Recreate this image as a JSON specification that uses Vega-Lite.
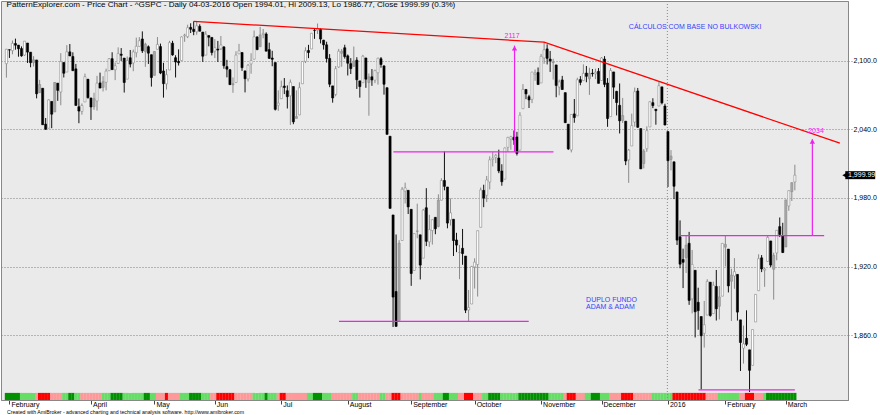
{
"$schema":"https://vega.github.io/schema/vega-lite/v6.json",
"width":847,"height":399,"autosize":"none",
"padding":{"left":1,"top":1,"right":32,"bottom":15},
"background":"#ffffff",
"config":{"view":{"fill":"#eaeaea","stroke":"#888888","strokeWidth":1},"font":"Liberation Sans"},
"datasets":{
"p":[
{"i":0,"o":2097.65,"h":2110.61,"l":2085.44,"c":2110.30,"s":"U"},
{"i":1,"o":2109.83,"h":2110.05,"l":2102.68,"c":2109.66,"s":"U"},
{"i":2,"o":2109.10,"h":2117.94,"l":2105.87,"c":2115.48,"s":"U"},
{"i":3,"o":2115.30,"h":2119.59,"l":2109.89,"c":2113.86,"s":"U"},
{"i":4,"o":2113.91,"h":2113.91,"l":2103.76,"c":2110.74,"s":"U"},
{"i":5,"o":2110.88,"h":2112.74,"l":2103.75,"c":2104.50,"s":"u"},
{"i":6,"o":2105.23,"h":2117.52,"l":2104.50,"c":2117.39,"s":"u"},
{"i":7,"o":2115.76,"h":2115.76,"l":2098.26,"c":2107.78,"s":"u"},
{"i":8,"o":2107.72,"h":2107.72,"l":2094.49,"c":2098.53,"s":"u"},
{"i":9,"o":2098.54,"h":2104.25,"l":2095.22,"c":2101.04,"s":"u","t":"w"},
{"i":10,"o":2100.91,"h":2100.91,"l":2067.27,"c":2071.26,"s":"d"},
{"i":11,"o":2072.25,"h":2083.49,"l":2072.21,"c":2079.43,"s":"D","t":"w"},
{"i":12,"o":2076.14,"h":2076.14,"l":2044.16,"c":2044.16,"s":"D"},
{"i":13,"o":2044.69,"h":2050.08,"l":2039.69,"c":2040.24,"s":"D"},
{"i":14,"o":2041.10,"h":2066.41,"l":2041.10,"c":2065.95,"s":"D"},
{"i":15,"o":2064.56,"h":2064.56,"l":2041.17,"c":2053.40,"s":"d"},
{"i":16,"o":2055.35,"h":2081.41,"l":2055.35,"c":2081.19,"s":"d","t":"w"},
{"i":17,"o":2080.59,"h":2080.59,"l":2065.08,"c":2074.28,"s":"d"},
{"i":18,"o":2072.84,"h":2106.85,"l":2061.23,"c":2099.50,"s":"d"},
{"i":19,"o":2098.69,"h":2098.69,"l":2085.56,"c":2089.27,"s":"u"},
{"i":20,"o":2090.32,"h":2113.92,"l":2090.32,"c":2108.10,"s":"u"},
{"i":21,"o":2107.99,"h":2114.86,"l":2104.42,"c":2104.42,"s":"U"},
{"i":22,"o":2103.94,"h":2107.63,"l":2091.50,"c":2091.50,"s":"U"},
{"i":23,"o":2093.10,"h":2097.43,"l":2061.05,"c":2061.05,"s":"u"},
{"i":24,"o":2059.94,"h":2067.15,"l":2045.50,"c":2056.15,"s":"u"},
{"i":25,"o":2055.78,"h":2062.83,"l":2052.96,"c":2061.02,"s":"d"},
{"i":26,"o":2064.11,"h":2088.97,"l":2064.11,"c":2086.24,"s":"d"},
{"i":27,"o":2084.05,"h":2084.05,"l":2067.04,"c":2067.89,"s":"d"},
{"i":28,"o":2067.63,"h":2067.63,"l":2048.38,"c":2059.69,"s":"d"},
{"i":29,"o":2060.03,"h":2072.17,"l":2057.32,"c":2066.96,"s":"d","t":"w"},
{"i":30,"o":2064.87,"h":2086.99,"l":2056.52,"c":2080.62,"s":"d"},
{"i":31,"o":2080.79,"h":2089.81,"l":2076.10,"c":2076.33,"s":"d"},
{"i":32,"o":2076.94,"h":2086.69,"l":2073.30,"c":2081.90,"s":"u","t":"w"},
{"i":33,"o":2081.29,"h":2093.31,"l":2074.29,"c":2091.18,"s":"u"},
{"i":34,"o":2091.51,"h":2102.61,"l":2091.51,"c":2102.06,"s":"u"},
{"i":35,"o":2102.03,"h":2107.65,"l":2092.33,"c":2092.43,"s":"U"},
{"i":36,"o":2092.28,"h":2098.62,"l":2083.24,"c":2095.84,"s":"U"},
{"i":37,"o":2097.82,"h":2111.91,"l":2097.82,"c":2106.63,"s":"U"},
{"i":38,"o":2105.96,"h":2111.30,"l":2100.02,"c":2104.99,"s":"U"},
{"i":39,"o":2102.58,"h":2102.58,"l":2072.37,"c":2081.18,"s":"u"},
{"i":40,"o":2084.11,"h":2103.94,"l":2084.11,"c":2100.40,"s":"u"},
{"i":41,"o":2102.82,"h":2109.64,"l":2094.38,"c":2097.29,"s":"u"},
{"i":42,"o":2098.27,"h":2109.98,"l":2091.05,"c":2107.96,"s":"u"},
{"i":43,"o":2107.21,"h":2120.49,"l":2103.19,"c":2112.93,"s":"u"},
{"i":44,"o":2112.80,"h":2120.92,"l":2112.80,"c":2117.69,"s":"u"},
{"i":45,"o":2119.29,"h":2125.92,"l":2107.04,"c":2108.92,"s":"u"},
{"i":46,"o":2108.35,"h":2116.04,"l":2094.89,"c":2114.76,"s":"U","t":"w"},
{"i":47,"o":2112.49,"h":2113.65,"l":2097.41,"c":2106.85,"s":"U"},
{"i":48,"o":2105.52,"h":2105.52,"l":2077.59,"c":2085.51,"s":"u"},
{"i":49,"o":2087.38,"h":2108.41,"l":2087.38,"c":2108.29,"s":"u","t":"w"},
{"i":50,"o":2110.23,"h":2120.95,"l":2110.23,"c":2114.49,"s":"d"},
{"i":51,"o":2112.63,"h":2115.24,"l":2088.46,"c":2089.46,"s":"d"},
{"i":52,"o":2091.26,"h":2098.42,"l":2067.93,"c":2080.15,"s":"d"},
{"i":53,"o":2079.96,"h":2092.90,"l":2074.99,"c":2088.00,"s":"D"},
{"i":54,"o":2092.13,"h":2117.66,"l":2092.13,"c":2116.10,"s":"d"},
{"i":55,"o":2115.56,"h":2117.69,"l":2104.58,"c":2105.33,"s":"d"},
{"i":56,"o":2102.87,"h":2105.06,"l":2085.57,"c":2099.12,"s":"d"},
{"i":57,"o":2099.62,"h":2110.19,"l":2096.04,"c":2098.48,"s":"d"},
{"i":58,"o":2100.43,"h":2121.45,"l":2100.43,"c":2121.10,"s":"u"},
{"i":59,"o":2122.07,"h":2123.89,"l":2116.81,"c":2122.73,"s":"u"},
{"i":60,"o":2121.30,"h":2131.78,"l":2120.01,"c":2129.20,"s":"u"},
{"i":61,"o":2129.45,"h":2133.02,"l":2124.50,"c":2127.83,"s":"U"},
{"i":62,"o":2127.79,"h":2134.72,"l":2122.59,"c":2125.85,"s":"U"},
{"i":63,"o":2125.55,"h":2134.28,"l":2122.95,"c":2130.82,"s":"U"},
{"i":64,"o":2130.36,"h":2132.15,"l":2126.06,"c":2126.06,"s":"U"},
{"i":65,"o":2125.34,"h":2125.34,"l":2099.18,"c":2104.20,"s":"u"},
{"i":66,"o":2105.13,"h":2126.22,"l":2105.13,"c":2123.48,"s":"u"},
{"i":67,"o":2122.27,"h":2122.27,"l":2112.86,"c":2120.79,"s":"u"},
{"i":68,"o":2120.66,"h":2120.66,"l":2104.89,"c":2107.39,"s":"d"},
{"i":69,"o":2108.64,"h":2119.15,"l":2102.54,"c":2111.73,"s":"d"},
{"i":70,"o":2110.41,"h":2117.59,"l":2099.14,"c":2109.60,"s":"D"},
{"i":71,"o":2110.64,"h":2121.92,"l":2109.61,"c":2114.07,"s":"D"},
{"i":72,"o":2112.35,"h":2112.89,"l":2093.23,"c":2095.84,"s":"D"},
{"i":73,"o":2095.09,"h":2100.99,"l":2085.67,"c":2092.83,"s":"D"},
{"i":74,"o":2092.34,"h":2093.01,"l":2079.11,"c":2079.28,"s":"D"},
{"i":75,"o":2079.07,"h":2085.62,"l":2072.14,"c":2080.15,"s":"D","t":"w"},
{"i":76,"o":2081.12,"h":2108.50,"l":2081.12,"c":2105.20,"s":"d"},
{"i":77,"o":2106.24,"h":2115.02,"l":2106.24,"c":2108.86,"s":"d"},
{"i":78,"o":2107.43,"h":2107.43,"l":2091.33,"c":2094.11,"s":"d"},
{"i":79,"o":2091.34,"h":2091.34,"l":2072.49,"c":2084.43,"s":"d"},
{"i":80,"o":2084.26,"h":2097.40,"l":2082.10,"c":2096.29,"s":"d"},
{"i":81,"o":2097.40,"h":2106.79,"l":2088.86,"c":2100.44,"s":"d"},
{"i":82,"o":2101.58,"h":2126.65,"l":2101.58,"c":2121.24,"s":"u"},
{"i":83,"o":2121.06,"h":2121.64,"l":2109.45,"c":2109.99,"s":"u"},
{"i":84,"o":2112.50,"h":2129.87,"l":2112.50,"c":2122.85,"s":"u","t":"w"},
{"i":85,"o":2123.16,"h":2128.03,"l":2119.89,"c":2124.20,"s":"u"},
{"i":86,"o":2123.65,"h":2125.10,"l":2108.58,"c":2108.58,"s":"U"},
{"i":87,"o":2109.96,"h":2116.04,"l":2101.78,"c":2102.31,"s":"u"},
{"i":88,"o":2102.62,"h":2108.92,"l":2095.38,"c":2101.49,"s":"u"},
{"i":89,"o":2098.63,"h":2098.63,"l":2056.64,"c":2057.64,"s":"u"},
{"i":90,"o":2061.19,"h":2074.28,"l":2056.32,"c":2063.11,"s":"d"},
{"i":91,"o":2067.00,"h":2082.78,"l":2067.00,"c":2077.42,"s":"D"},
{"i":92,"o":2078.03,"h":2085.06,"l":2071.02,"c":2076.78,"s":"D"},
{"i":93,"o":2073.95,"h":2078.61,"l":2058.40,"c":2068.76,"s":"d"},
{"i":94,"o":2069.52,"h":2083.74,"l":2044.02,"c":2081.34,"s":"d"},
{"i":95,"o":2077.66,"h":2077.66,"l":2044.66,"c":2046.68,"s":"d"},
{"i":96,"o":2049.73,"h":2074.28,"l":2049.73,"c":2051.31,"s":"d","t":"w"},
{"i":97,"o":2052.74,"h":2081.31,"l":2052.74,"c":2076.62,"s":"d"},
{"i":98,"o":2080.03,"h":2099.88,"l":2080.03,"c":2099.60,"s":"d"},
{"i":99,"o":2099.72,"h":2111.98,"l":2098.18,"c":2108.95,"s":"d"},
{"i":100,"o":2109.22,"h":2114.14,"l":2102.49,"c":2107.40,"s":"u"},
{"i":101,"o":2110.55,"h":2124.42,"l":2110.55,"c":2124.29,"s":"u"},
{"i":102,"o":2126.80,"h":2128.91,"l":2119.39,"c":2126.64,"s":"U"},
{"i":103,"o":2126.85,"h":2132.82,"l":2123.66,"c":2128.28,"s":"U"},
{"i":104,"o":2127.55,"h":2128.48,"l":2115.40,"c":2119.21,"s":"U"},
{"i":105,"o":2118.21,"h":2118.51,"l":2110.00,"c":2114.15,"s":"u"},
{"i":106,"o":2114.16,"h":2116.87,"l":2098.63,"c":2102.15,"s":"u"},
{"i":107,"o":2102.24,"h":2106.01,"l":2077.09,"c":2079.65,"s":"u"},
{"i":108,"o":2078.19,"h":2078.19,"l":2063.52,"c":2067.64,"s":"d"},
{"i":109,"o":2070.75,"h":2095.60,"l":2069.09,"c":2093.25,"s":"d"},
{"i":110,"o":2094.70,"h":2110.60,"l":2094.08,"c":2108.57,"s":"d"},
{"i":111,"o":2106.78,"h":2110.48,"l":2094.97,"c":2108.63,"s":"d","t":"w"},
{"i":112,"o":2111.60,"h":2114.24,"l":2102.07,"c":2103.84,"s":"d"},
{"i":113,"o":2104.49,"h":2105.70,"l":2087.31,"c":2098.04,"s":"d"},
{"i":114,"o":2097.68,"h":2102.51,"l":2088.60,"c":2093.32,"s":"d"},
{"i":115,"o":2095.27,"h":2112.66,"l":2095.27,"c":2099.84,"s":"u","t":"w"},
{"i":116,"o":2100.75,"h":2103.32,"l":2075.53,"c":2083.56,"s":"u"},
{"i":117,"o":2082.61,"h":2082.61,"l":2067.91,"c":2077.57,"s":"d"},
{"i":118,"o":2080.98,"h":2105.35,"l":2080.98,"c":2104.18,"s":"d"},
{"i":119,"o":2102.66,"h":2102.66,"l":2076.49,"c":2084.07,"s":"d"},
{"i":120,"o":2081.10,"h":2089.06,"l":2052.09,"c":2086.05,"s":"d","t":"w"},
{"i":121,"o":2086.19,"h":2092.93,"l":2078.26,"c":2083.39,"s":"d"},
{"i":122,"o":2083.15,"h":2092.45,"l":2080.61,"c":2091.54,"s":"d"},
{"i":123,"o":2089.70,"h":2102.87,"l":2079.30,"c":2102.44,"s":"d"},
{"i":124,"o":2101.99,"h":2103.47,"l":2094.14,"c":2096.92,"s":"u"},
{"i":125,"o":2095.69,"h":2096.17,"l":2070.53,"c":2079.61,"s":"u"},
{"i":126,"o":2076.61,"h":2076.61,"l":2035.73,"c":2035.73,"s":"d"},
{"i":127,"o":2034.08,"h":2034.08,"l":1970.89,"c":1970.89,"s":"d"},
{"i":128,"o":1965.15,"h":1965.15,"l":1867.01,"c":1893.21,"s":"D"},
{"i":129,"o":1898.08,"h":1948.04,"l":1867.08,"c":1867.61,"s":"D"},
{"i":130,"o":1872.75,"h":1943.09,"l":1872.75,"c":1940.51,"s":"D","t":"w"},
{"i":131,"o":1942.77,"h":1989.60,"l":1942.77,"c":1987.66,"s":"d"},
{"i":132,"o":1986.06,"h":1993.48,"l":1975.19,"c":1988.87,"s":"d"},
{"i":133,"o":1986.73,"h":1986.73,"l":1965.98,"c":1972.18,"s":"d"},
{"i":134,"o":1970.09,"h":1970.09,"l":1903.07,"c":1913.85,"s":"d"},
{"i":135,"o":1916.52,"h":1948.91,"l":1916.52,"c":1948.86,"s":"d"},
{"i":136,"o":1950.79,"h":1975.01,"l":1944.72,"c":1951.13,"s":"d","t":"w"},
{"i":137,"o":1947.76,"h":1947.76,"l":1908.65,"c":1921.22,"s":"u"},
{"i":138,"o":1927.30,"h":1970.42,"l":1927.30,"c":1969.41,"s":"d"},
{"i":139,"o":1971.45,"h":1988.63,"l":1937.88,"c":1942.04,"s":"d"},
{"i":140,"o":1941.59,"h":1965.29,"l":1937.19,"c":1952.29,"s":"d"},
{"i":141,"o":1951.45,"h":1961.05,"l":1939.19,"c":1961.05,"s":"d"},
{"i":142,"o":1963.06,"h":1963.06,"l":1948.27,"c":1953.03,"s":"u"},
{"i":143,"o":1955.10,"h":1983.19,"l":1954.30,"c":1978.09,"s":"u","t":"w"},
{"i":144,"o":1978.02,"h":1997.26,"l":1977.93,"c":1995.31,"s":"u"},
{"i":145,"o":1995.33,"h":2020.86,"l":1986.73,"c":1990.20,"s":"U"},
{"i":146,"o":1989.66,"h":1989.66,"l":1953.45,"c":1958.03,"s":"U"},
{"i":147,"o":1960.84,"h":1979.64,"l":1955.80,"c":1966.97,"s":"u"},
{"i":148,"o":1961.39,"h":1961.39,"l":1929.22,"c":1942.74,"s":"u"},
{"i":149,"o":1943.24,"h":1949.52,"l":1932.57,"c":1938.76,"s":"u"},
{"i":150,"o":1932.24,"h":1938.88,"l":1908.91,"c":1932.24,"s":"d"},
{"i":151,"o":1935.93,"h":1952.89,"l":1921.50,"c":1931.34,"s":"d"},
{"i":152,"o":1929.18,"h":1929.18,"l":1879.21,"c":1881.77,"s":"D"},
{"i":153,"o":1881.90,"h":1899.48,"l":1871.91,"c":1884.09,"s":"D"},
{"i":154,"o":1887.14,"h":1920.53,"l":1887.14,"c":1920.03,"s":"D"},
{"i":155,"o":1919.65,"h":1927.21,"l":1900.70,"c":1923.82,"s":"d"},
{"i":156,"o":1921.77,"h":1951.36,"l":1893.70,"c":1951.36,"s":"d"},
{"i":157,"o":1954.33,"h":1989.17,"l":1954.33,"c":1987.05,"s":"d"},
{"i":158,"o":1986.63,"h":1991.62,"l":1971.99,"c":1979.92,"s":"u"},
{"i":159,"o":1982.34,"h":1999.31,"l":1976.44,"c":1995.83,"s":"u"},
{"i":160,"o":1994.01,"h":2016.50,"l":1987.53,"c":2013.43,"s":"U"},
{"i":161,"o":2013.73,"h":2020.13,"l":2007.61,"c":2014.89,"s":"U"},
{"i":162,"o":2015.65,"h":2018.66,"l":2010.55,"c":2017.46,"s":"U"},
{"i":163,"o":2015.00,"h":2022.34,"l":2001.78,"c":2003.69,"s":"U"},
{"i":164,"o":2003.66,"h":2009.56,"l":1990.73,"c":1994.24,"s":"u"},
{"i":165,"o":1996.47,"h":2024.15,"l":1996.47,"c":2023.86,"s":"u"},
{"i":166,"o":2024.37,"h":2033.54,"l":2020.46,"c":2033.11,"s":"u"},
{"i":167,"o":2031.73,"h":2034.45,"l":2022.31,"c":2033.66,"s":"u"},
{"i":168,"o":2033.13,"h":2039.12,"l":2026.61,"c":2030.77,"s":"u"},
{"i":169,"o":2033.47,"h":2037.97,"l":2017.22,"c":2018.94,"s":"u"},
{"i":170,"o":2021.88,"h":2055.20,"l":2021.88,"c":2052.51,"s":"U"},
{"i":171,"o":2058.19,"h":2079.74,"l":2058.19,"c":2075.15,"s":"U"},
{"i":172,"o":2075.08,"h":2075.14,"l":2066.53,"c":2071.18,"s":"U"},
{"i":173,"o":2068.75,"h":2070.37,"l":2058.84,"c":2065.89,"s":"U"},
{"i":174,"o":2066.48,"h":2090.35,"l":2063.11,"c":2090.35,"s":"U"},
{"i":175,"o":2088.35,"h":2092.52,"l":2082.63,"c":2089.41,"s":"U"},
{"i":176,"o":2090.00,"h":2094.32,"l":2079.34,"c":2079.36,"s":"U"},
{"i":177,"o":2080.76,"h":2106.20,"l":2080.76,"c":2104.05,"s":"U"},
{"i":178,"o":2102.63,"h":2116.48,"l":2097.51,"c":2109.79,"s":"U"},
{"i":179,"o":2110.60,"h":2114.59,"l":2096.98,"c":2102.31,"s":"U"},
{"i":180,"o":2101.68,"h":2108.78,"l":2090.41,"c":2099.93,"s":"u"},
{"i":181,"o":2098.60,"h":2101.91,"l":2083.74,"c":2099.20,"s":"u","t":"w"},
{"i":182,"o":2096.56,"h":2096.56,"l":2068.24,"c":2078.58,"s":"u"},
{"i":183,"o":2077.19,"h":2083.67,"l":2069.91,"c":2081.72,"s":"u"},
{"i":184,"o":2083.41,"h":2086.94,"l":2074.85,"c":2075.00,"s":"u"},
{"i":185,"o":2072.29,"h":2072.29,"l":2045.66,"c":2045.97,"s":"d"},
{"i":186,"o":2044.64,"h":2044.64,"l":2022.02,"c":2023.04,"s":"D"},
{"i":187,"o":2022.08,"h":2053.22,"l":2019.94,"c":2053.19,"s":"D"},
{"i":188,"o":2053.67,"h":2066.69,"l":2045.90,"c":2050.44,"s":"D"},
{"i":189,"o":2051.99,"h":2085.31,"l":2051.99,"c":2083.58,"s":"d"},
{"i":190,"o":2083.70,"h":2086.74,"l":2078.76,"c":2081.24,"s":"d"},
{"i":191,"o":2082.82,"h":2097.06,"l":2082.82,"c":2089.17,"s":"d"},
{"i":192,"o":2089.41,"h":2095.61,"l":2081.39,"c":2086.59,"s":"u"},
{"i":193,"o":2084.42,"h":2094.12,"l":2070.29,"c":2089.14,"s":"u","t":"w"},
{"i":194,"o":2089.30,"h":2093.00,"l":2086.30,"c":2088.87,"s":"U"},
{"i":195,"o":2088.82,"h":2093.29,"l":2084.13,"c":2090.11,"s":"U"},
{"i":196,"o":2090.95,"h":2093.81,"l":2080.41,"c":2080.41,"s":"U"},
{"i":197,"o":2082.93,"h":2103.37,"l":2082.93,"c":2102.63,"s":"u"},
{"i":198,"o":2101.71,"h":2104.27,"l":2077.11,"c":2079.51,"s":"u"},
{"i":199,"o":2080.71,"h":2085.00,"l":2042.35,"c":2049.62,"s":"u"},
{"i":200,"o":2051.24,"h":2093.84,"l":2051.24,"c":2091.69,"s":"d"},
{"i":201,"o":2090.42,"h":2090.42,"l":2066.78,"c":2077.07,"s":"d"},
{"i":202,"o":2073.39,"h":2073.85,"l":2052.32,"c":2063.59,"s":"d"},
{"i":203,"o":2061.17,"h":2080.33,"l":2036.53,"c":2047.62,"s":"d"},
{"i":204,"o":2047.93,"h":2067.65,"l":2045.67,"c":2052.23,"s":"D","t":"w"},
{"i":205,"o":2047.27,"h":2047.27,"l":2008.80,"c":2012.37,"s":"D"},
{"i":206,"o":2013.37,"h":2022.92,"l":1993.26,"c":2021.94,"s":"D"},
{"i":207,"o":2025.55,"h":2053.87,"l":2025.55,"c":2043.41,"s":"D"},
{"i":208,"o":2046.50,"h":2076.72,"l":2042.43,"c":2073.07,"s":"d"},
{"i":209,"o":2073.76,"h":2076.37,"l":2041.66,"c":2041.89,"s":"d"},
{"i":210,"o":2040.81,"h":2040.81,"l":2005.33,"c":2005.55,"s":"d"},
{"i":211,"o":2010.27,"h":2022.90,"l":2005.93,"c":2021.15,"s":"d","t":"w"},
{"i":212,"o":2023.15,"h":2042.74,"l":2020.49,"c":2038.97,"s":"d"},
{"i":213,"o":2042.20,"h":2064.73,"l":2042.20,"c":2064.29,"s":"d"},
{"i":214,"o":2063.52,"h":2067.36,"l":2058.73,"c":2060.99,"s":"u"},
{"i":215,"o":2057.77,"h":2057.77,"l":2044.20,"c":2056.50,"s":"u"},
{"i":216,"o":2060.54,"h":2081.56,"l":2060.54,"c":2078.36,"s":"u"},
{"i":217,"o":2077.34,"h":2077.34,"l":2061.97,"c":2063.36,"s":"u"},
{"i":218,"o":2060.59,"h":2062.54,"l":2043.62,"c":2043.94,"s":"u"},
{"i":219,"o":2038.20,"h":2038.20,"l":1989.68,"c":2012.66,"s":"u"},
{"i":220,"o":2013.78,"h":2021.94,"l":2004.17,"c":2016.71,"s":"u","t":"w"},
{"i":221,"o":2011.71,"h":2011.71,"l":1979.05,"c":1990.26,"s":"D"},
{"i":222,"o":1985.32,"h":1985.32,"l":1938.83,"c":1943.09,"s":"D"},
{"i":223,"o":1945.97,"h":1960.40,"l":1918.46,"c":1922.03,"s":"D"},
{"i":224,"o":1926.12,"h":1935.65,"l":1901.10,"c":1923.67,"s":"D"},
{"i":225,"o":1927.83,"h":1947.38,"l":1914.35,"c":1938.68,"s":"D","t":"w"},
{"i":226,"o":1940.34,"h":1950.33,"l":1886.41,"c":1890.28,"s":"D"},
{"i":227,"o":1891.68,"h":1934.47,"l":1878.93,"c":1921.84,"s":"D"},
{"i":228,"o":1916.68,"h":1916.68,"l":1857.83,"c":1880.33,"s":"D"},
{"i":229,"o":1888.66,"h":1901.44,"l":1864.60,"c":1881.33,"s":"D"},
{"i":230,"o":1876.18,"h":1876.18,"l":1812.29,"c":1859.33,"s":"D"},
{"i":231,"o":1861.46,"h":1889.85,"l":1848.98,"c":1868.99,"s":"D"},
{"i":232,"o":1877.40,"h":1908.85,"l":1877.40,"c":1906.90,"s":"d"},
{"i":233,"o":1906.28,"h":1906.28,"l":1875.97,"c":1877.08,"s":"d"},
{"i":234,"o":1878.79,"h":1906.73,"l":1878.79,"c":1903.63,"s":"d"},
{"i":235,"o":1902.52,"h":1916.99,"l":1872.70,"c":1882.95,"s":"d"},
{"i":236,"o":1885.22,"h":1902.96,"l":1873.65,"c":1893.36,"s":"u","t":"w"},
{"i":237,"o":1894.00,"h":1940.24,"l":1894.00,"c":1940.24,"s":"u"},
{"i":238,"o":1936.94,"h":1947.20,"l":1920.03,"c":1939.38,"s":"u","t":"w"},
{"i":239,"o":1935.26,"h":1935.26,"l":1897.29,"c":1903.03,"s":"u"},
{"i":240,"o":1907.07,"h":1918.01,"l":1872.23,"c":1912.53,"s":"u","t":"w"},
{"i":241,"o":1911.67,"h":1927.35,"l":1900.52,"c":1915.45,"s":"u"},
{"i":242,"o":1913.07,"h":1913.07,"l":1872.65,"c":1880.05,"s":"u"},
{"i":243,"o":1873.25,"h":1873.25,"l":1828.46,"c":1853.44,"s":"d"},
{"i":244,"o":1848.46,"h":1868.25,"l":1834.94,"c":1852.21,"s":"d"},
{"i":245,"o":1857.10,"h":1881.60,"l":1850.32,"c":1851.86,"s":"D"},
{"i":246,"o":1847.00,"h":1847.00,"l":1810.10,"c":1829.08,"s":"D"},
{"i":247,"o":1833.40,"h":1864.78,"l":1833.40,"c":1864.78,"s":"D"},
{"i":248,"o":1871.44,"h":1895.77,"l":1871.44,"c":1895.58,"s":"d"},
{"i":249,"o":1898.80,"h":1930.68,"l":1898.80,"c":1926.82,"s":"d"},
{"i":250,"o":1927.57,"h":1930.00,"l":1915.09,"c":1917.83,"s":"d"},
{"i":251,"o":1916.74,"h":1918.78,"l":1902.17,"c":1917.78,"s":"u"},
{"i":252,"o":1924.44,"h":1946.70,"l":1924.44,"c":1945.50,"s":"U"},
{"i":253,"o":1942.38,"h":1942.38,"l":1919.44,"c":1921.27,"s":"U"},
{"i":254,"o":1917.56,"h":1932.08,"l":1891.00,"c":1929.80,"s":"U","t":"w"},
{"i":255,"o":1931.87,"h":1951.83,"l":1925.41,"c":1951.70,"s":"U"},
{"i":256,"o":1954.95,"h":1962.96,"l":1945.78,"c":1948.05,"s":"U"},
{"i":257,"o":1947.13,"h":1958.27,"l":1931.81,"c":1932.23,"s":"U"},
{"i":258,"o":1937.09,"h":1978.35,"l":1937.09,"c":1978.35,"s":"U","t":"w"},
{"i":259,"o":1973.04,"h":1986.51,"l":1968.80,"c":1986.45,"s":"U"},
{"i":260,"o":1985.60,"h":1993.69,"l":1977.37,"c":1993.40,"s":"U","t":"w"},
{"i":261,"o":1994.01,"h":2009.13,"l":1986.77,"c":1999.99,"s":"U"}
],
"trend":[{"i":62,"v":2134.72},{"i":178,"v":2116.48},{"i":275.9,"v":2028.0}],
"hl":[{"a":128.1,"b":181.1,"v":2020.4},{"a":110.1,"b":172.9,"v":1871.9},{"a":223.3,"b":270.7,"v":1947.0},{"a":229.1,"b":261.0,"v":1812.0}],
"ar":[{"i":168.2,"f":2020.4,"t":2113.5,"tip":2111.2},{"i":266.8,"f":1947.0,"t":2031.5,"tip":2029.6}],
"mt":[{"i":167.4,"v":2122.1,"txt":"2117"},{"i":268.0,"v":2039.0,"txt":"2034"}],
"bt":[{"i":191.9,"v":1890.7,"txt":"DUPLO FUNDO"},{"i":191.9,"v":1884.6,"txt":"ADAM & ADAM"}],
"notes":[{"i":228.0,"v":2130.0,"txt":"CÁLCULOS COM BASE NO BULKOWSKI"}],
"hdr":[{"i":0.05,"v":2149.4,"txt":"PatternExplorer.com - Price Chart - ^GSPC - Daily 04-03-2016 Open 1994.01, Hi 2009.13, Lo 1986.77, Close 1999.99 (0.3%)"}],
"ftr":[{"i":0.2,"v":1792.6,"txt":"Created with AmiBroker - advanced charting and technical analysis software. http://www.amibroker.com"}],
"yr":[{"i":218.8}],
"last":[{"i":277.7,"i2":287.6,"lo":1996.5,"hi":2003.5,"v":1999.99,"tx":278.6,"ti":277.5,"txt":"1,999.99"}]
},
"layer":[
{"data":{"name":"p"},"mark":{"type":"rule","strokeWidth":1},
 "encoding":{
  "x":{"field":"i","type":"quantitative","title":null,"scale":{"domain":[-0.131,276.94],"nice":false,"zero":false},
   "axis":{"values":[1,28,49,69,91,113,134,155,177,197,219,238,258],
    "labelExpr":"datum.value==1?'February':datum.value==28?'April':datum.value==49?'May':datum.value==69?'Jun':datum.value==91?'Jul':datum.value==113?'August':datum.value==134?'September':datum.value==155?'October':datum.value==177?'November':datum.value==197?'December':datum.value==219?'2016':datum.value==238?'February':'March'",
    "labelAlign":"left","labelBaseline":"top","labelPadding":-3.5,"labelOffset":1.5,"tickSize":4,"tickColor":"#444444","domainColor":"#888888","grid":false,"labelFontSize":7,"labelColor":"#000000","labelOverlap":false,"labelFlush":false}},
  "y":{"field":"l","type":"quantitative","title":null,"scale":{"domain":[1803.07,2152.55],"nice":false,"zero":false},
   "axis":{"orient":"right","values":[1860,1920,1980,2040,2100],"format":",.1f","grid":true,"gridDash":[1,2],"gridColor":"#808080","gridOpacity":1,"tickSize":4,"tickDash":[1,2],"tickColor":"#808080","labelPadding":1,"labelFontSize":7,"labelColor":"#000000","domainColor":"#888888"}},
  "y2":{"field":"h"},
  "color":{"condition":{"test":"datum.c<datum.o","value":"#111111"},"value":"#8a8a8a"}}},
{"data":{"name":"p"},"mark":{"type":"bar","width":3.2,"orient":"vertical"},
 "encoding":{
  "x":{"field":"i","type":"quantitative","title":null},
  "y":{"datum":1809.3,"type":"quantitative","title":null},
  "y2":{"datum":1803.07},
  "color":{"field":"s","type":"nominal","scale":{"domain":["U","u","d","D"],"range":["#009000","#66dd66","#ff9999","#ff0000"]},"legend":null}}},
{"data":{"name":"yr"},"mark":{"type":"rule","strokeDash":[1,2],"color":"#888888"},"encoding":{"x":{"field":"i","type":"quantitative","title":null}}},
{"data":{"name":"p"},"mark":{"type":"bar","width":2.1,"orient":"vertical","strokeWidth":0.6},
 "encoding":{"x":{"field":"i","type":"quantitative","title":null},"y":{"field":"o","type":"quantitative","title":null},"y2":{"field":"c"},
  "fill":{"condition":[{"test":"datum.c<datum.o","value":"#000000"},{"test":"datum.t=='w'","value":"#a9a9a9"}],"value":"#ffffff"},
  "stroke":{"condition":{"test":"datum.c<datum.o","value":"#000000"},"value":"#8a8a8a"}}},
{"data":{"name":"trend"},"mark":{"type":"line","color":"#ff0000","strokeWidth":1.3},
 "encoding":{"x":{"field":"i","type":"quantitative","title":null},"y":{"field":"v","type":"quantitative","title":null}}},
{"data":{"name":"hl"},"mark":{"type":"rule","color":"#ee22ee","strokeWidth":1.2},
 "encoding":{"x":{"field":"a","type":"quantitative","title":null},"x2":{"field":"b"},"y":{"field":"v","type":"quantitative","title":null}}},
{"data":{"name":"ar"},"mark":{"type":"rule","color":"#ee22ee","strokeWidth":1.2},
 "encoding":{"x":{"field":"i","type":"quantitative","title":null},"y":{"field":"f","type":"quantitative","title":null},"y2":{"field":"t"}}},
{"data":{"name":"ar"},"mark":{"type":"point","shape":"triangle-up","filled":true,"color":"#ee22ee","size":28,"opacity":1},
 "encoding":{"x":{"field":"i","type":"quantitative","title":null},"y":{"field":"tip","type":"quantitative","title":null}}},
{"data":{"name":"mt"},"mark":{"type":"text","color":"#ee22ee","fontSize":7,"align":"center","baseline":"middle"},
 "encoding":{"x":{"field":"i","type":"quantitative","title":null},"y":{"field":"v","type":"quantitative","title":null},"text":{"field":"txt"}}},
{"data":{"name":"bt"},"mark":{"type":"text","color":"#3d3dff","fontSize":7,"align":"left","baseline":"middle"},
 "encoding":{"x":{"field":"i","type":"quantitative","title":null},"y":{"field":"v","type":"quantitative","title":null},"text":{"field":"txt"}}},
{"data":{"name":"notes"},"mark":{"type":"text","color":"#3d3dff","fontSize":7,"align":"center","baseline":"middle"},
 "encoding":{"x":{"field":"i","type":"quantitative","title":null},"y":{"field":"v","type":"quantitative","title":null},"text":{"field":"txt"}}},
{"data":{"name":"hdr"},"mark":{"type":"text","color":"#000000","fontSize":8.1,"align":"left","baseline":"middle"},
 "encoding":{"x":{"field":"i","type":"quantitative","title":null},"y":{"field":"v","type":"quantitative","title":null},"text":{"field":"txt"}}},
{"data":{"name":"ftr"},"mark":{"type":"text","color":"#000000","fontSize":5.2,"align":"left","baseline":"middle"},
 "encoding":{"x":{"field":"i","type":"quantitative","title":null},"y":{"field":"v","type":"quantitative","title":null},"text":{"field":"txt"}}},
{"data":{"name":"last"},"mark":{"type":"rect","color":"#000000"},
 "encoding":{"x":{"field":"i","type":"quantitative","title":null},"x2":{"field":"i2"},"y":{"field":"hi","type":"quantitative","title":null},"y2":{"field":"lo"}}},
{"data":{"name":"last"},"mark":{"type":"point","shape":"triangle-left","filled":true,"color":"#000000","size":30,"opacity":1},
 "encoding":{"x":{"field":"ti","type":"quantitative","title":null},"y":{"field":"v","type":"quantitative","title":null}}},
{"data":{"name":"last"},"mark":{"type":"text","color":"#ffffff","fontSize":7,"align":"left","baseline":"middle"},
 "encoding":{"x":{"field":"tx","type":"quantitative","title":null},"y":{"field":"v","type":"quantitative","title":null},"text":{"field":"txt"}}}
]
}
